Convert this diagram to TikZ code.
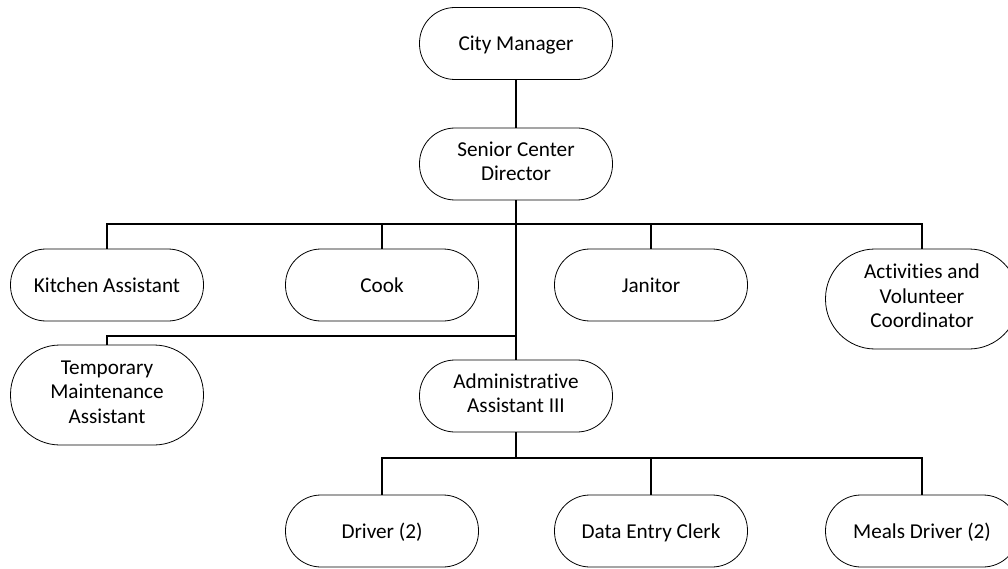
\documentclass[tikz,border=0pt]{standalone}
\usepackage{fontspec}
\setmainfont[Ligatures=NoCommon]{Carlito}
\newcommand\topstrut{\rule{0pt}{20pt}}
\newcommand\tallstrut{\rule{0pt}{25pt}}
\newcommand\botstrut{\rule[-6pt]{0pt}{6pt}}
\begin{document}
\begin{tikzpicture}[x=1pt,y=-1pt,
  box/.style={draw=black,line width=0.8pt,fill=white,rectangle,rounded corners=35.5pt,
    minimum width=193pt,minimum height=72pt,inner sep=2pt,align=center,
    font=\fontsize{21.2}{24.5}\selectfont,
    execute at begin node=\topstrut, execute at end node=\botstrut},
  multi/.style={execute at begin node=\tallstrut},
  tallbox/.style={box,multi,minimum height=100pt,rounded corners=49.5pt},
  conn/.style={line width=1.6pt,black},
  mainconn/.style={line width=2.4pt,black}]
\useasboundingbox (0,0) rectangle (1008,569);
\begin{scope}
\clip (0,0) rectangle (1008,569);
\coordinate (b1) at (516,224);
\coordinate (b2) at (516,336);
\coordinate (b3) at (516,458);
\node[box] (cm) at (516,43.5) {City Manager};
\node[box,multi] (scd) at (516,164) {Senior Center\\Director};
\node[box] (ka) at (107,285) {Kitchen Assistant};
\node[box] (cook) at (382,285) {Cook};
\node[box] (jan) at (651,285) {Janitor};
\node[tallbox] (act) at (922,299) {Activities and\\Volunteer\\Coordinator};
\node[tallbox] (tma) at (107,395) {Temporary\\Maintenance\\Assistant};
\node[box,multi] (aa) at (516,396) {Administrative\\Assistant III};
\node[box] (drv) at (382,531) {Driver (2)};
\node[box] (dec) at (651,531) {Data Entry Clerk};
\node[box] (md) at (922,531) {Meals Driver (2)};
\draw[conn] (cm.south) -- (scd.north);
\draw[mainconn] (scd.south) -- (aa.north);
\draw[conn] (ka.north) |- (b1) -| (act.north);
\draw[conn] (cook.north) -- (cook.north|-b1);
\draw[conn] (jan.north) -- (jan.north|-b1);
\draw[conn] (tma.north) |- (b2);
\draw[mainconn] (aa.south) -- (b3);
\draw[conn] (drv.north) |- (b3) -| (md.north);
\draw[conn] (dec.north) -- (dec.north|-b3);
\end{scope}
\end{tikzpicture}
\end{document}
